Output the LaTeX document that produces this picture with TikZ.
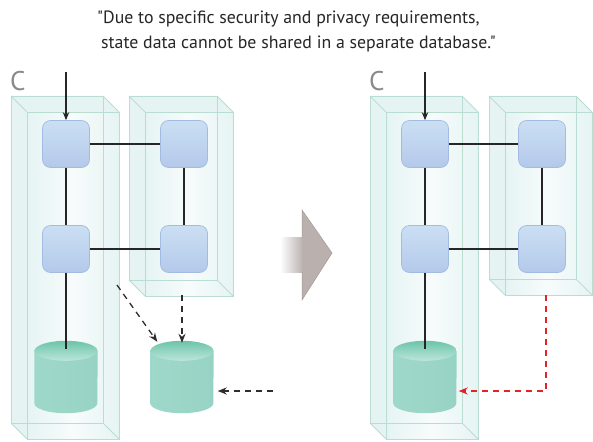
\documentclass[tikz,border=0pt]{standalone}
\usepackage{fontspec}
\setmainfont{PT Sans}
\newfontfamily\titlefont{PT Sans}
\usetikzlibrary{arrows.meta}
\definecolor{boxfill}{HTML}{E5F4F3}
\definecolor{boxline}{HTML}{B9DED1}
\definecolor{nodetop}{HTML}{CBDFF3}
\definecolor{nodebot}{HTML}{B4C9EA}
\definecolor{nodeedge}{HTML}{A3BAE2}
\definecolor{cylL}{HTML}{9ED8CA}
\definecolor{cylM}{HTML}{C8E8EE}
\definecolor{cylR}{HTML}{97D3C4}
\definecolor{cyltop}{HTML}{6CC4A9}
\definecolor{cyltopb}{HTML}{BCE6DB}
\definecolor{bigarrow}{HTML}{BAB1AE}
\definecolor{bigarrowedge}{HTML}{A39997}
\definecolor{cgray}{HTML}{8A8A8A}
\definecolor{reddash}{HTML}{E42228}
\definecolor{darkdash}{HTML}{2E2E2E}
\tikzset{
  proc/.style={rectangle, rounded corners=8pt, minimum width=47pt, minimum height=47pt,
    top color=nodetop, bottom color=nodebot, draw=nodeedge, line width=0.7pt, inner sep=0pt},
  dbbox/.style={rectangle, minimum width=63pt, minimum height=72pt, inner sep=0pt},
  link/.style={line width=1.1pt, black!85},
  inarrow/.style={line width=1.1pt, black!85, -{Stealth[length=8pt,width=6.5pt]}},
  dasharrow/.style={line width=1.3pt, darkdash, dash pattern=on 6pt off 5pt, -{Stealth[length=9pt,width=7pt]}},
  reddasharrow/.style={line width=1.3pt, reddash, dash pattern=on 6pt off 5pt, -{Stealth[length=9pt,width=7pt]}},
  boxedge/.style={draw=boxline, line width=0.8pt},
  cletter/.style={text=cgray, font=\fontsize{27}{27}\selectfont, inner sep=0pt}
}
\newcommand\glassbox[4]{% back x1,y1 x2,y2 ; front is +16,+16
  \fill[boxfill] (#1,#2) -- (#3,#2) -- (#3+16,#2-16) -- (#3+16,#4-16) -- (#1+16,#4-16) -- (#1,#4) -- cycle;
  \shade[shading angle=135, left color=boxfill, right color=boxfill, middle color=white!70!boxfill]
     (#1+16,#2-16) rectangle (#3+16,#4-16);
  \draw[boxedge] (#1,#2) rectangle (#3,#4);
  \draw[boxedge] (#1+16,#2-16) rectangle (#3+16,#4-16);
  \draw[boxedge] (#1,#2) -- (#1+16,#2-16) (#3,#2) -- (#3+16,#2-16)
                 (#1,#4) -- (#1+16,#4-16) (#3,#4) -- (#3+16,#4-16);
}
\newcommand\dbdraw[1]{%
  \shade[left color=cylL, middle color=cylM, right color=cylR]
    ([yshift=-10pt]#1.north west) -- ([yshift=10pt]#1.south west)
    arc[start angle=180, end angle=360, x radius=31.5, y radius=10]
    -- ([yshift=-10pt]#1.north east) -- cycle;
  \shade[top color=cyltop, bottom color=cyltopb]
    ([yshift=-10pt]#1.north) ellipse [x radius=31.5, y radius=10];
}
\begin{document}
\begin{tikzpicture}[x=1pt,y=1pt]
\useasboundingbox (0,0) rectangle (593,-441);
\fill[white] (0,0) rectangle (593,-441);

% title
\node[align=left, anchor=west, inner sep=0pt, font=\titlefont\fontsize{17.8}{25}\selectfont, text=black!85] (title) at (97,-31)
  {"Due to specific security and privacy requirements,\\ \hspace*{4pt}state data cannot be shared in a separate database."};

% ===== left panel =====
\glassbox{11}{-96}{103}{-423}
\glassbox{129}{-96}{217}{-280}
\node[cletter, anchor=north west] (cL) at (10,-71) {C};

\node[proc] (lA1) at (66,-144) {};
\node[proc] (lA2) at (66,-249) {};
\node[proc] (lB1) at (184,-144) {};
\node[proc] (lB2) at (184,-249) {};
\node[dbbox] (ldb1) at (66,-377) {};
\node[dbbox] (ldb2) at (182,-377) {};
\dbdraw{ldb1}
\dbdraw{ldb2}

\coordinate (inL) at (66,-72);
\draw[inarrow] (inL) -- (lA1.north);
\draw[link] (lA1) -- (lB1);
\draw[link] (lA1) -- (lA2);
\draw[link] (lB1) -- (lB2);
\draw[link] (lA2) -- (lB2);
\draw[link] (lA2.south) -- ([yshift=-8pt]ldb1.north);

\coordinate (dsA) at (117,-285);
\coordinate (dsB) at (182,-295);
\coordinate (dsC) at (273,-391);
\draw[dasharrow] (dsA) -- ([xshift=7pt,yshift=-1pt]ldb2.north west);
\draw[dasharrow] (dsB) -- ([yshift=-2pt]ldb2.north);
\draw[dasharrow] (dsC) -- ([xshift=4pt]dsC -| ldb2.east);

% ===== big arrow =====
\shade[left color=white, right color=bigarrow] (280,-237) rectangle (303,-272);
\filldraw[fill=bigarrow, draw=bigarrowedge, line width=0.5pt]
  (302,-237) -- (302,-210) -- (332,-253) -- (302,-300) -- (302,-272);

% ===== right panel =====
\glassbox{370}{-96}{462}{-423}
\glassbox{489}{-96}{576}{-279}
\node[cletter, anchor=north west] (cR) at (369,-71) {C};

\node[proc] (rA1) at (425,-144) {};
\node[proc] (rA2) at (425,-249) {};
\node[proc] (rB1) at (542,-144) {};
\node[proc] (rB2) at (542,-249) {};
\node[dbbox] (rdb) at (425,-377) {};
\dbdraw{rdb}

\coordinate (inR) at (425,-72);
\draw[inarrow] (inR) -- (rA1.north);
\draw[link] (rA1) -- (rB1);
\draw[link] (rA1) -- (rA2);
\draw[link] (rB1) -- (rB2);
\draw[link] (rA2) -- (rB2);
\draw[link] (rA2.south) -- ([yshift=-8pt]rdb.north);

\coordinate (rsrc) at (546,-295);
\coordinate (rturn) at (546,-391);
\draw[reddasharrow] (rsrc) -- (rturn) -- ([xshift=2pt]rturn -| rdb.east);
\end{tikzpicture}
\end{document}
